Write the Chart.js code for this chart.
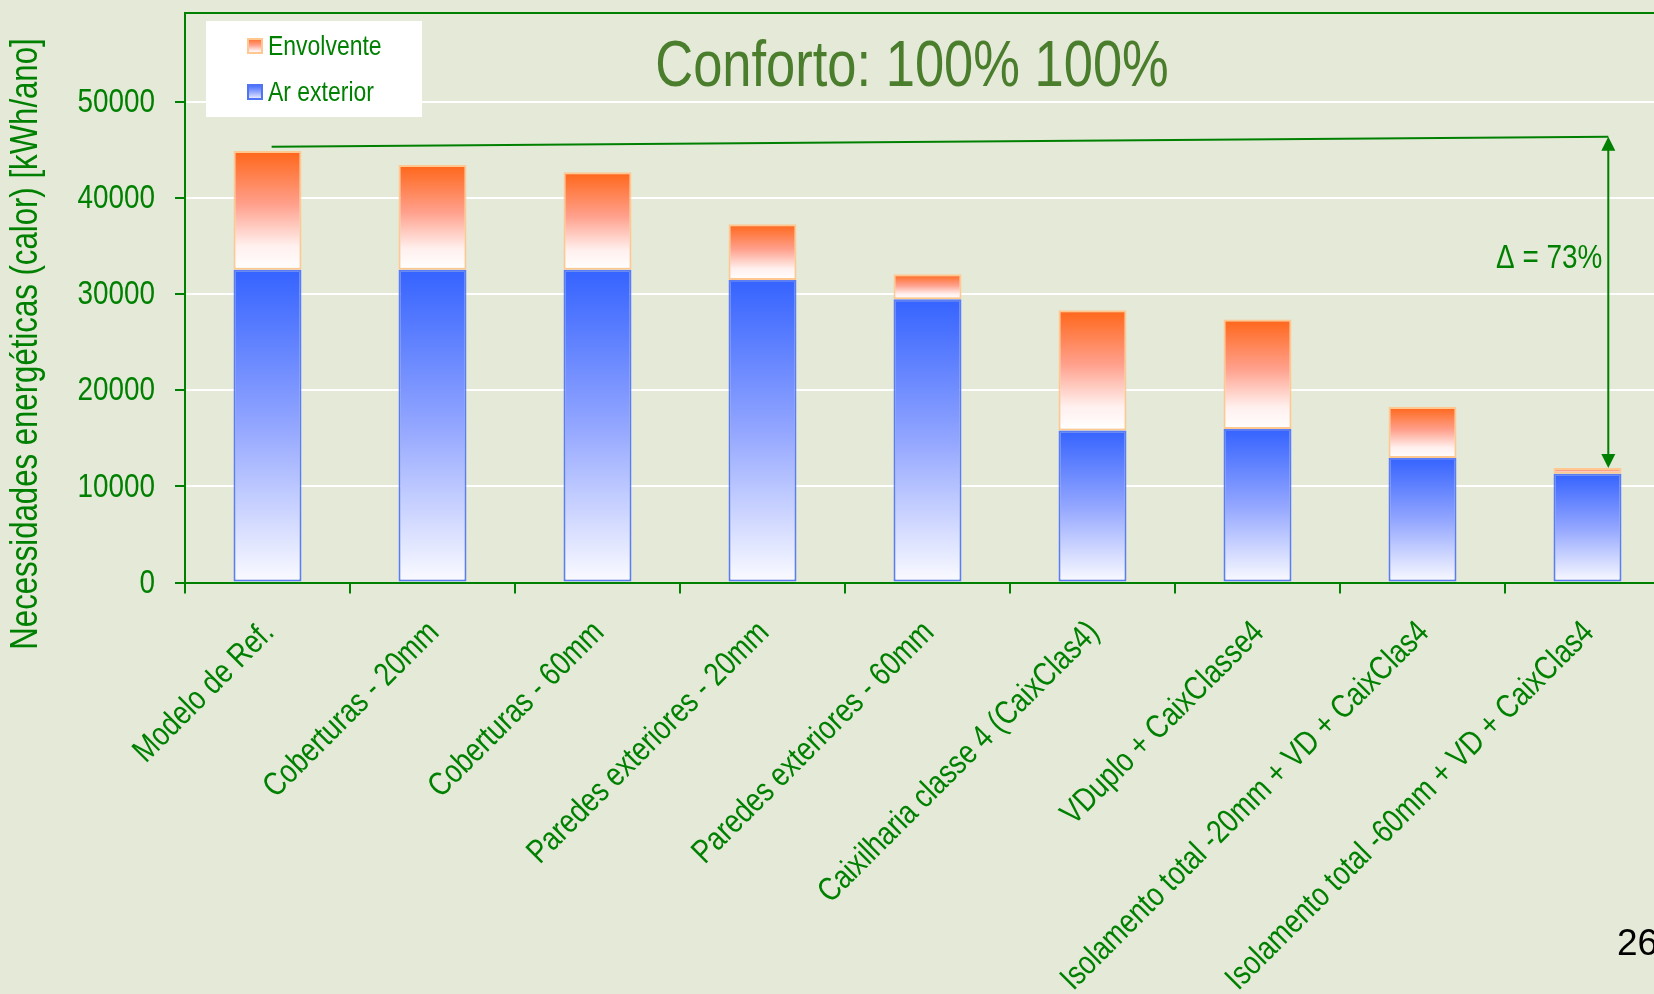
<!DOCTYPE html>
<html>
<head>
<meta charset="utf-8">
<script src="https://cdn.jsdelivr.net/npm/chart.js@4.4.1/dist/chart.umd.min.js"></script>
<style>
html, body { margin: 0; padding: 0; background: #e4e9d8; overflow: hidden; width: 1654px; height: 994px; }
#wrap { position: relative; width: 1700px; height: 1100px; }
</style>
</head>
<body>
<div id="wrap"><canvas id="myChart" width="1700" height="1100"></canvas></div>
<script>
// =====================
// DATA SECTION
// =====================
const categories = [
    "Modelo de Ref.",
    "Coberturas - 20mm",
    "Coberturas - 60mm",
    "Paredes exteriores - 20mm",
    "Paredes exteriores - 60mm",
    "Caixilharia classe 4 (CaixClas4)",
    "VDuplo + CaixClasse4",
    "Isolamento total -20mm + VD + CaixClas4",
    "Isolamento total -60mm + VD + CaixClas4"
];
const arExterior = [32500, 32500, 32500, 31450, 29450, 15800, 15950, 12950, 11300];
const envolvente = [12350, 10900, 10150, 5800, 2600, 12500, 11400, 5300, 600];
const yTicks = [0, 10000, 20000, 30000, 40000, 50000];

const chartTitle = "Conforto: 100% 100%";
const yTitle = "Necessidades energéticas (calor) [kWh/ano]";
const pageNumber = "26";

// =====================
// STYLE SECTION
// =====================
const green = "#008000";
const fontFamily = "'Liberation Sans', Arial, sans-serif";
const squeeze = 0.82;   // narrow look (no Arial Narrow installed)
const blueStops = [[0, "#3563ff"], [0.5, "#93a6ff"], [1, "#fbfbff"]];
const orangeStops = [[0, "#ff6619"], [0.45, "#ffa08c"], [0.8, "#fff0ee"], [1, "#ffffff"]];

// vertical gradient for one bar, from its base value to its top value
function barGradient(context, stops, baseArr, valArr) {
    const chart = context.chart;
    const y = chart.scales.y;
    if (!chart.chartArea || !y || context.dataIndex === undefined) return stops[0][1];
    const i = context.dataIndex;
    const base = baseArr ? baseArr[i] : 0;
    const top = y.getPixelForValue(base + valArr[i]);
    const bottom = y.getPixelForValue(base);
    const g = chart.ctx.createLinearGradient(0, top, 0, bottom);
    stops.forEach((s) => g.addColorStop(s[0], s[1]));
    return g;
}

function squareGradient(ctx, stops, top, h) {
    const g = ctx.createLinearGradient(0, top, 0, top + h);
    stops.forEach((s) => g.addColorStop(s[0], s[1]));
    return g;
}

// condensed text helper
function drawText(ctx, text, x, y, opts) {
    ctx.save();
    ctx.translate(x, y);
    if (opts.angle) ctx.rotate(opts.angle);
    ctx.scale(opts.squeeze || squeeze, 1);
    ctx.fillStyle = opts.color || green;
    ctx.font = opts.size + "px " + fontFamily;
    ctx.textAlign = opts.align || "left";
    ctx.textBaseline = opts.baseline || "alphabetic";
    ctx.fillText(text, 0, 0);
    ctx.restore();
}

// =====================
// PLUGINS
// =====================
const backgroundPlugin = {
    id: "bg",
    beforeDraw(chart) {
        const ctx = chart.ctx;
        ctx.save();
        ctx.fillStyle = "#e4e9d8";
        ctx.fillRect(0, 0, chart.width, chart.height);
        ctx.restore();
    }
};

const decorPlugin = {
    id: "decor",
    afterDatasetsDraw(chart) {
        const ctx = chart.ctx;
        const x = chart.scales.x;
        const y = chart.scales.y;
        const area = chart.chartArea;

        // plot frame (top + right)
        ctx.save();
        ctx.strokeStyle = green;
        ctx.lineWidth = 2;
        ctx.beginPath();
        ctx.moveTo(area.left, area.top);
        ctx.lineTo(area.right, area.top);
        ctx.lineTo(area.right, area.bottom);
        ctx.stroke();

        // delta line + double arrow
        const last = categories.length - 1;
        const firstTotal = arExterior[0] + envolvente[0];
        const lastTotal = arExterior[last] + envolvente[last];
        const xs = x.getPixelForValue(0.025);
        const ys = y.getPixelForValue(45300);
        const xa = x.getPixelForValue(8.126);
        const ya = y.getPixelForValue(46330);
        const yb = y.getPixelForValue(lastTotal);

        ctx.strokeStyle = green;
        ctx.fillStyle = green;
        ctx.lineWidth = 2;
        ctx.beginPath();
        ctx.moveTo(xs, ys);
        ctx.lineTo(xa, ya);
        ctx.moveTo(xa, ya + 10);
        ctx.lineTo(xa, yb - 10);
        ctx.stroke();

        ctx.beginPath();
        ctx.moveTo(xa, ya);
        ctx.lineTo(xa - 7, ya + 14);
        ctx.lineTo(xa + 7, ya + 14);
        ctx.closePath();
        ctx.fill();
        ctx.beginPath();
        ctx.moveTo(xa, yb);
        ctx.lineTo(xa - 7, yb - 14);
        ctx.lineTo(xa + 7, yb - 14);
        ctx.closePath();
        ctx.fill();
        ctx.restore();

        const pct = Math.round((1 - lastTotal / firstTotal) * 100);
        drawText(ctx, "\u0394 = " + pct + "%", xa - 6, 268, { size: 34, align: "right" });
    },
    afterDraw(chart) {
        const ctx = chart.ctx;
        const x = chart.scales.x;
        const y = chart.scales.y;

        // y tick labels
        y.ticks.forEach((t) => {
            drawText(ctx, String(t.value), 155, y.getPixelForValue(t.value) + 1, { size: 34, align: "right", baseline: "middle" });
        });

        // x tick labels (45 deg)
        chart.data.labels.forEach((lab, i) => {
            drawText(ctx, lab, x.getPixelForTick(i) + 8, 634, { size: 33, align: "right", angle: -Math.PI / 4 });
        });

        // title
        drawText(ctx, chartTitle, 912, 86, { size: 64, align: "center", color: "#4a7d2c" });

        // y axis title
        drawText(ctx, yTitle, 37, 344, { size: 38, align: "center", angle: -Math.PI / 2 });

        // legend box
        ctx.save();
        ctx.fillStyle = "#ffffff";
        ctx.fillRect(206, 21, 216, 96);
        const items = [
            { label: chart.data.datasets[1].label, stops: orangeStops, border: "#ffc890", y: 38 },
            { label: chart.data.datasets[0].label, stops: blueStops, border: "#4f74f5", y: 84 }
        ];
        items.forEach((it) => {
            ctx.fillStyle = squareGradient(ctx, it.stops, it.y, 16);
            ctx.fillRect(247, it.y, 16, 16);
            ctx.strokeStyle = it.border;
            ctx.lineWidth = 2;
            ctx.strokeRect(248, it.y + 1, 14, 14);
            drawText(ctx, it.label, 268, it.y + 9, { size: 28, baseline: "middle" });
        });
        ctx.restore();

        // page number
        drawText(ctx, pageNumber, 1617, 955, { size: 37, color: "#000000", squeeze: 1 });
    }
};

// =====================
// CHART
// =====================
const ctx = document.getElementById("myChart");

const data = {
    labels: categories,
    datasets: [
        {
            label: "Ar exterior",
            data: arExterior,
            backgroundColor: (c) => barGradient(c, blueStops, null, arExterior),
            borderColor: "#5a7cf5",
            borderWidth: 2,
            borderSkipped: false,
            barPercentage: 0.412,
            categoryPercentage: 1.0
        },
        {
            label: "Envolvente",
            data: envolvente,
            backgroundColor: (c) => barGradient(c, orangeStops, arExterior, envolvente),
            borderColor: "#ffc890",
            borderWidth: 2,
            borderSkipped: false,
            barPercentage: 0.412,
            categoryPercentage: 1.0
        }
    ]
};

const myChart = new Chart(ctx, {
    type: "bar",
    data: data,
    plugins: [backgroundPlugin, decorPlugin],
    options: {
        responsive: false,
        animation: false,
        layout: { padding: { top: 13, right: 30, left: 0, bottom: 0 } },
        plugins: {
            legend: { display: false },
            tooltip: { enabled: false },
            title: { display: false }
        },
        scales: {
            x: {
                stacked: true,
                afterFit: (s) => { s.height = 1100 - 582.5; },
                ticks: { display: false, autoSkip: false },
                grid: {
                    drawOnChartArea: false,
                    offset: true,
                    tickColor: green,
                    tickLength: 11,
                    lineWidth: 2
                },
                border: { color: green, width: 2 }
            },
            y: {
                stacked: true,
                min: 0,
                max: 59200,
                afterBuildTicks: (s) => { s.ticks = yTicks.map((v) => ({ value: v })); },
                afterFit: (s) => { s.width = 185; },
                ticks: { display: false },
                grid: {
                    color: "#ffffff",
                    lineWidth: 2,
                    tickColor: green,
                    tickLength: 10
                },
                border: { color: green, width: 2 }
            }
        }
    }
});
</script>
</body>
</html>
